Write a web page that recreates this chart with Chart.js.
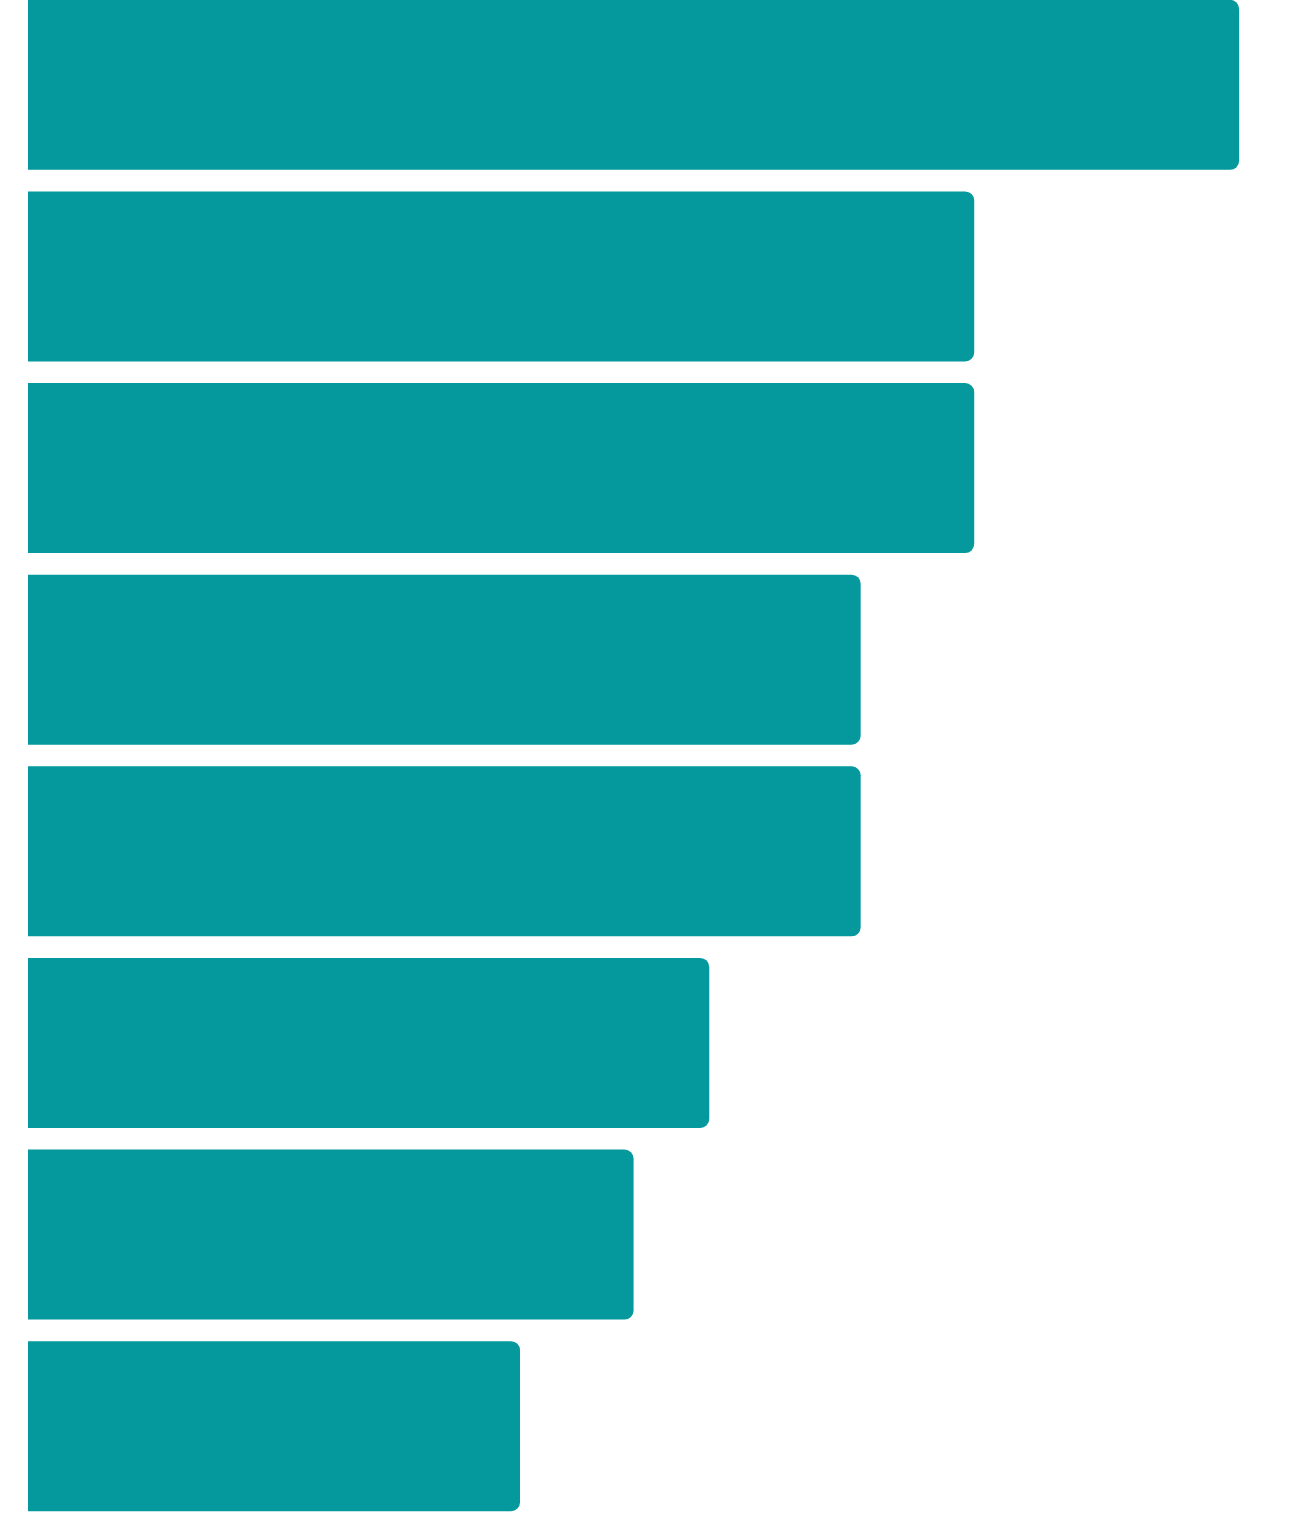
<!DOCTYPE html>
<html>
<head>
<meta charset="utf-8">
<script src="https://cdn.jsdelivr.net/npm/chart.js@4/dist/chart.umd.min.js"></script>
<style>
  html, body { margin: 0; padding: 0; background: #ffffff; overflow: hidden; }
  #wrap { position: absolute; left: 0; top: -11px; width: 1298px; height: 1537px; }
</style>
</head>
<body>
<div id="wrap"><canvas id="barChart"></canvas></div>
<script>
// categories (no labels are shown in the picture)
const categories = ['A', 'B', 'C', 'D', 'E', 'F', 'G', 'H'];
const values = [32, 25, 25, 22, 22, 18, 16, 13];
const barColor = 'rgb(5, 152, 157)';

const ctx = document.getElementById('barChart');
new Chart(ctx, {
  type: 'bar',
  data: {
    labels: categories,
    datasets: [
      {
        data: values,
        backgroundColor: barColor,
        borderRadius: 9,
        categoryPercentage: 1,
        barPercentage: 0.887,
      },
    ],
  },
  options: {
    indexAxis: 'y',
    responsive: true,
    maintainAspectRatio: false,
    animation: false,
    layout: {
      padding: { left: 28, right: 21, top: 0, bottom: 4 },
    },
    plugins: {
      legend: { display: false },
      tooltip: { enabled: false },
    },
    scales: {
      x: {
        display: false,
        min: 0,
        max: 33,
      },
      y: {
        display: false,
      },
    },
  },
});
</script>
</body>
</html>
